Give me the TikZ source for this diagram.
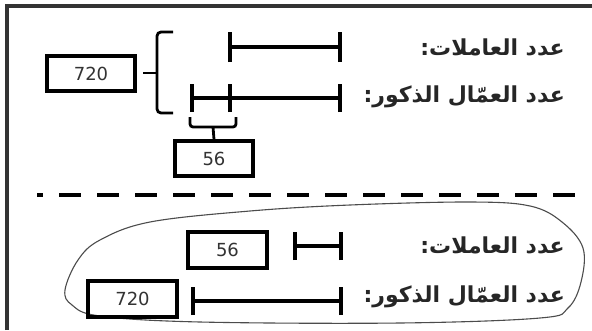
\documentclass[tikz,border=0pt]{standalone}
\usepackage{fontspec}
\setmainfont{DejaVu Sans}
\TeXXeTstate=1
\newfontfamily\arabicfont[Script=Arabic]{DejaVu Sans}
\begin{document}
\begin{tikzpicture}[x=1pt,y=-1pt,
  numbox/.style={draw=black,line width=3.4pt,minimum width=#1,minimum height=35pt,inner sep=0pt,font=\fontsize{18}{20}\selectfont,text=black!80},
  seg/.style={line width=3.4pt},
  lbl/.style={anchor=east,inner sep=0pt,font=\arabicfont\bfseries\fontsize{22}{24}\selectfont,text=black!85},
  brace/.style={line width=2.8pt,rounded corners=4pt}]
\useasboundingbox (0,0) rectangle (592,330);
\fill[white] (0,0) rectangle (592,330);
% frame
\draw[line width=3.4pt,black!80] (7,330) -- (7,6) -- (592,6);
% ---- top part ----
\node[numbox=88pt] (a720) at (91,73.5) {720};
\node[numbox=78pt] (a56) at (214,158.5) {56};
% big brace
\coordinate (bt) at (173,32);
\coordinate (bb) at (173,113);
\coordinate (bm) at (157,73);
\draw[brace] (bt) -- (157,32) -- (157,113) -- (bb);
\draw[brace] (bm) -- ++(-14,0);
% segment females
\coordinate (f1) at (230,47);
\coordinate (f2) at (340,47);
\draw[seg] (f1) -- (f2);
\draw[seg] ([yshift=-15pt]f1) -- ([yshift=15pt]f1);
\draw[seg] ([yshift=-15pt]f2) -- ([yshift=15pt]f2);
% segment males
\coordinate (m0) at (192,98);
\coordinate (m1) at (230,98);
\coordinate (m2) at (340,98);
\draw[seg] (m0) -- (m2);
\foreach \p in {m0,m1,m2} \draw[seg] ([yshift=-14pt]\p) -- ([yshift=14pt]\p);
% small brace
\coordinate (sb) at (213,127);
\draw[brace,rounded corners=3pt] (190,117) -- (190,127) -- (236,127) -- (236,117);
\draw[brace] (sb) -- (a56.north);
\node[lbl] (t1) at (565,47) {\beginR عدد العاملات:\endR};
\node[lbl] (t2) at (565,97) {\beginR عدد العمّال الذكور:\endR};
% dashed separator
\coordinate (d1) at (37,195);
\coordinate (d2) at (578,195);
\draw[line width=3.4pt,dash pattern=on 22pt off 16pt,dash phase=16pt] (d1) -- (d2);
% ---- bottom part ----
\draw[black!70,line width=1.1pt] plot[smooth cycle,tension=0.6] coordinates {
 (65,290) (78,260) (100,240) (150,222) (250,211) (350,205) (470,202) (530,206)
 (562,222) (583,248) (581,282) (568,308) (540,318) (400,323) (200,322) (100,316) (72,305)};
\node[numbox=79pt,minimum height=36pt] (b56) at (227.5,250) {56};
\node[numbox=89pt,minimum height=36pt] (b720) at (132.5,299) {720};
\coordinate (g1) at (295,246);
\coordinate (g2) at (341,246);
\draw[seg] (g1) -- (g2);
\draw[seg] ([yshift=-14pt]g1) -- ([yshift=14pt]g1);
\draw[seg] ([yshift=-14pt]g2) -- ([yshift=14pt]g2);
\coordinate (h1) at (193,301);
\coordinate (h2) at (341,301);
\draw[seg] (h1) -- (h2);
\draw[seg] ([yshift=-14pt]h1) -- ([yshift=14pt]h1);
\draw[seg] ([yshift=-14pt]h2) -- ([yshift=14pt]h2);
\node[lbl] (t3) at (565,245) {\beginR عدد العاملات:\endR};
\node[lbl] (t4) at (565,297) {\beginR عدد العمّال الذكور:\endR};
\end{tikzpicture}
\end{document}
